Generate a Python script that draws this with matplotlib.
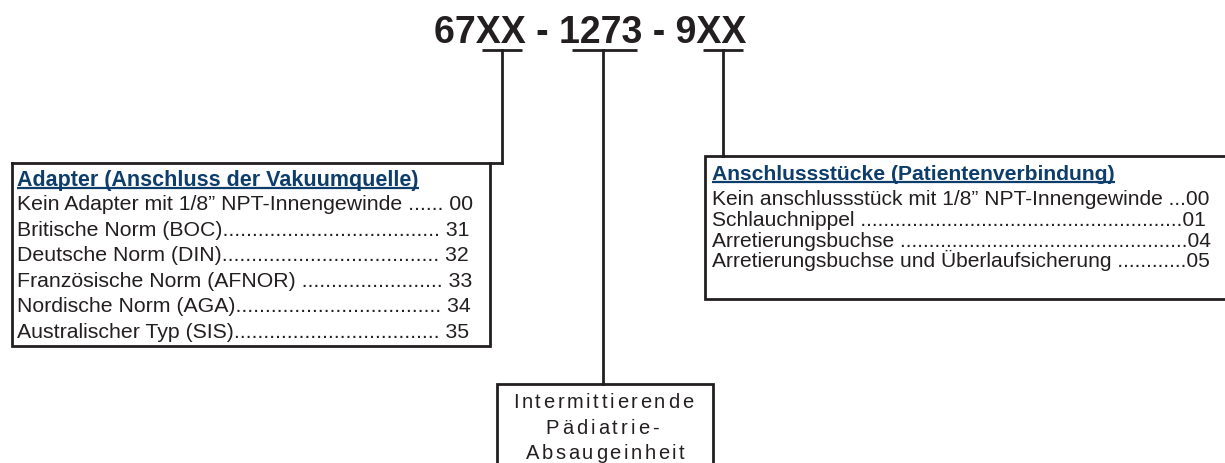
import matplotlib.pyplot as plt

plt.rcParams['font.family'] = ['Liberation Sans', 'DejaVu Sans']

# --- content ---
part_number = "67XX - 1273 - 9XX"

adapter_title = "Adapter (Anschluss der Vakuumquelle)"
adapter_labels = ["Kein Adapter mit 1/8\u201d NPT-Innengewinde ",
                  "Britische Norm (BOC)",
                  "Deutsche Norm (DIN)",
                  "Franz\u00f6sische Norm (AFNOR) ",
                  "Nordische Norm (AGA)",
                  "Australischer Typ (SIS)"]
adapter_codes = ["00", "31", "32", "33", "34", "35"]

fitting_title = "Anschlussst\u00fccke (Patientenverbindung)"
fitting_labels = ["Kein anschlussst\u00fcck mit 1/8\u201d NPT-Innengewinde ",
                  "Schlauchnippel ",
                  "Arretierungsbuchse ",
                  "Arretierungsbuchse und \u00dcberlaufsicherung "]
fitting_codes = ["00", "01", "04", "05"]

unit_lines = ["Intermittierende", "P\u00e4diatrie-", "Absaugeinheit"]

INK = '#231f20'
BLUE = '#0d3d6b'

fig = plt.figure(figsize=(12.25, 4.64), dpi=100)
ax = fig.add_axes([0, 0, 1, 1])
ax.set_xlim(0, 1225)
ax.set_ylim(464, 0)
ax.axis('off')
renderer = fig.canvas.get_renderer()


def width(t):
    bb = t.get_window_extent(renderer=renderer)
    return bb.width


def leader_row(x0, x1, y, label, code, fs, sep=' '):
    # label + dots + code, filled out to the right edge x1
    n = 0
    t = ax.text(x0, y, label + sep + code, fontsize=fs, color=INK, va='baseline')
    target = x1 - x0
    while True:
        t.set_text(label + '.' * (n + 1) + sep + code)
        if width(t) > target:
            break
        n += 1
    t.set_text(label + '.' * n + sep + code)
    return t


def underlined_title(x, y, s, fs):
    t = ax.text(x, y, s, fontsize=fs, fontweight='bold', color=BLUE, va='baseline')
    w = width(t)
    ax.plot([x, x + w], [y + 3, y + 3], color=BLUE, lw=1.6, solid_capstyle='butt')


def tracked(xc, y, s, fs, total_w):
    # letter-spaced centred line
    chars = [ax.text(0, y, c, fontsize=fs, color=INK, va='baseline') for c in s]
    ws = [width(c) for c in chars]
    gap = (total_w - sum(ws)) / (len(s) - 1)
    x = xc - total_w / 2
    for c, w in zip(chars, ws):
        c.set_x(x)
        x += w + gap


# title
ax.text(590, 43, part_number, fontsize=27, fontweight='bold', color=INK,
        ha='center', va='baseline')

lw = 2.0
# underlines beneath the variable parts
for xa, xb in [(482, 522), (572, 637), (703, 743)]:
    ax.plot([xa, xb], [51, 51], color=INK, lw=lw, solid_capstyle='butt')

# connectors
ax.plot([502, 502], [51, 164], color=INK, lw=lw)
ax.plot([603, 603], [51, 385], color=INK, lw=lw)
ax.plot([723, 723], [51, 157], color=INK, lw=lw)

# left box (top edge runs out to the connector)
ax.plot([12, 502], [164, 164], color=INK, lw=lw, solid_capstyle='projecting')
ax.plot([12, 12, 490, 490], [164, 347, 347, 164], color=INK, lw=lw,
        solid_capstyle='projecting', solid_joinstyle='miter')

# right box (runs past the right edge)
ax.plot([1240, 705, 705, 1240], [157, 157, 300, 300], color=INK, lw=lw,
        solid_joinstyle='miter', solid_capstyle='projecting')

# bottom box
ax.plot([497, 497, 713, 713], [475, 385, 385, 475], color=INK, lw=lw,
        solid_joinstyle='miter')

# left box text
underlined_title(17, 186, adapter_title, 15.5)
for i, (lab, code) in enumerate(zip(adapter_labels, adapter_codes)):
    leader_row(17, 473, 210 + i * 25.6, lab, code, 15.3)

# right box text
underlined_title(712, 180, fitting_title, 15.2)
for i, (lab, code) in enumerate(zip(fitting_labels, fitting_codes)):
    leader_row(712, 1211, 205 + i * 20.8, lab, code, 15.1, sep='')

# bottom box text
for line, y, w, xc in zip(unit_lines, [408, 434, 459], [180, 113, 159], [603, 602, 605]):
    tracked(xc, y, line, 14.5, w)

fig.savefig('out.png', dpi=100)
